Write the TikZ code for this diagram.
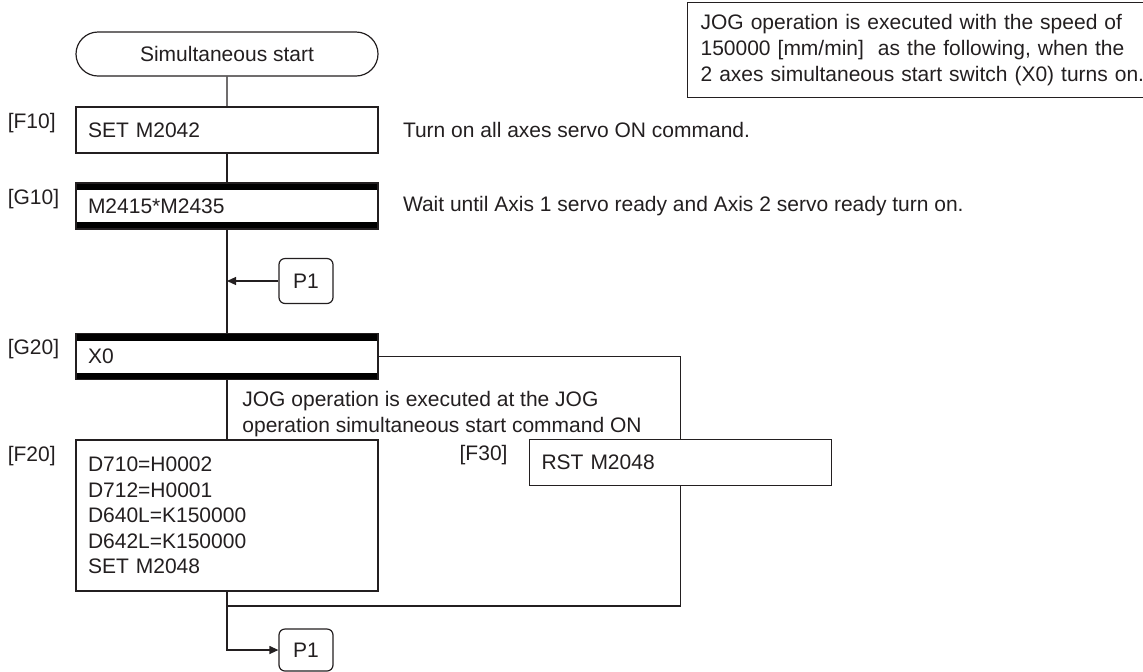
\documentclass[tikz,border=0pt]{standalone}
\usepackage{fontspec}
\setmainfont{Liberation Sans}
\usetikzlibrary{arrows.meta, positioning, shapes.misc}
\definecolor{ink}{RGB}{35,31,32}
\newcommand{\flowfont}{\fontsize{10.5}{12.8}\selectfont}
\tikzstyle{stepbox} = [rectangle, draw=ink, line width=0.6pt, fill=white,
  text width=139pt, inner xsep=6pt, inner ysep=0pt, minimum height=23pt, align=left]
\tikzstyle{gatebox} = [stepbox, path picture={
  \fill[black] (path picture bounding box.north west) rectangle ([yshift=-3.5pt]path picture bounding box.north east);
  \fill[black] (path picture bounding box.south west) rectangle ([yshift=3.5pt]path picture bounding box.south east);}]
\tikzstyle{startbox} = [rounded rectangle, draw=ink, line width=0.6pt,
  minimum width=151pt, minimum height=22pt, inner sep=0pt]
\tikzstyle{jump} = [rectangle, draw=ink, line width=0.6pt, rounded corners=3pt,
  minimum width=27pt, minimum height=22.5pt, inner sep=0pt]
\tikzstyle{steplabel} = [inner sep=0pt]
\tikzstyle{remark} = [inner sep=0pt, align=left]
\tikzstyle{link} = [draw=ink, line width=0.6pt]
\tikzstyle{arrow} = [link, -{Triangle[length=4.5pt,width=4pt]}]

\begin{document}
\begin{tikzpicture}[x=0.5pt, y=-0.5pt, every node/.style={font=\flowfont, text=ink}]
  \useasboundingbox (0,0) rectangle (1143,671);

  % note
  \node[draw=ink, line width=0.6pt, anchor=north west, text width=224pt, inner xsep=6.5pt,
    minimum height=47.5pt, align=left] (note) at (687,2)
    {JOG operation is executed with the speed of\\150000 [mm/min]~~as the following, when the\\2 axes simultaneous start switch (X0) turns on.};

  % steps
  \node[startbox] (start) at (227,54) {Simultaneous start};
  \node[stepbox] (f10) at (227,130) {SET M2042};
  \node[gatebox] (g10) at (227,206) {M2415*M2435};
  \node[jump] (p1in) at (306,281) {P1};
  \node[gatebox] (g20) at (227,356.5) {X0};
  \node[stepbox, minimum height=75.5pt] (f20) at (227,515.5)
    {D710=H0002\\D712=H0001\\D640L=K150000\\D642L=K150000\\SET M2048};
  \node[stepbox] (f30) at (680.5,462.5) {RST M2048};
  \node[jump, minimum height=21pt] (p1out) at (306,650) {P1};
  \coordinate (merge) at (227,606);

  % step numbers
  \node[steplabel, anchor=north west] (lf10) at ([xshift=-34pt,yshift=-3pt]f10.north west) {[F10]};
  \node[steplabel, anchor=north west] (lg10) at ([xshift=-34pt,yshift=-3pt]g10.north west) {[G10]};
  \node[steplabel, anchor=north west] (lg20) at ([xshift=-34pt,yshift=-3pt]g20.north west) {[G20]};
  \node[steplabel, anchor=north west] (lf20) at ([xshift=-34pt,yshift=-3pt]f20.north west) {[F20]};
  \node[steplabel, anchor=north east] (lf30) at ([xshift=-10.5pt,yshift=-3pt]f30.north west) {[F30]};

  % comments
  \node[remark, right=12pt of f10] (rf10) {Turn on all axes servo ON command.};
  \node[remark, right=12pt of g10] (rg10) {Wait until Axis 1 servo ready and Axis 2 servo ready turn on.};
  \node[remark, anchor=west] (rjog) at (242,414)
    {JOG operation is executed at the JOG\\operation simultaneous start command ON};

  % flow
  \draw[link] (start) -- (f10);
  \draw[link] (f10) -- (g10);
  \draw[link] (g10) -- (g20);
  \draw[arrow] (p1in) -- (p1in -| g10);
  \draw[link] (g20) -- (f20);
  \draw[link] (g20) -| (f30);
  \draw[link] (f30) |- (merge);
  \draw[arrow] (f20) |- (p1out);
\end{tikzpicture}
\end{document}
